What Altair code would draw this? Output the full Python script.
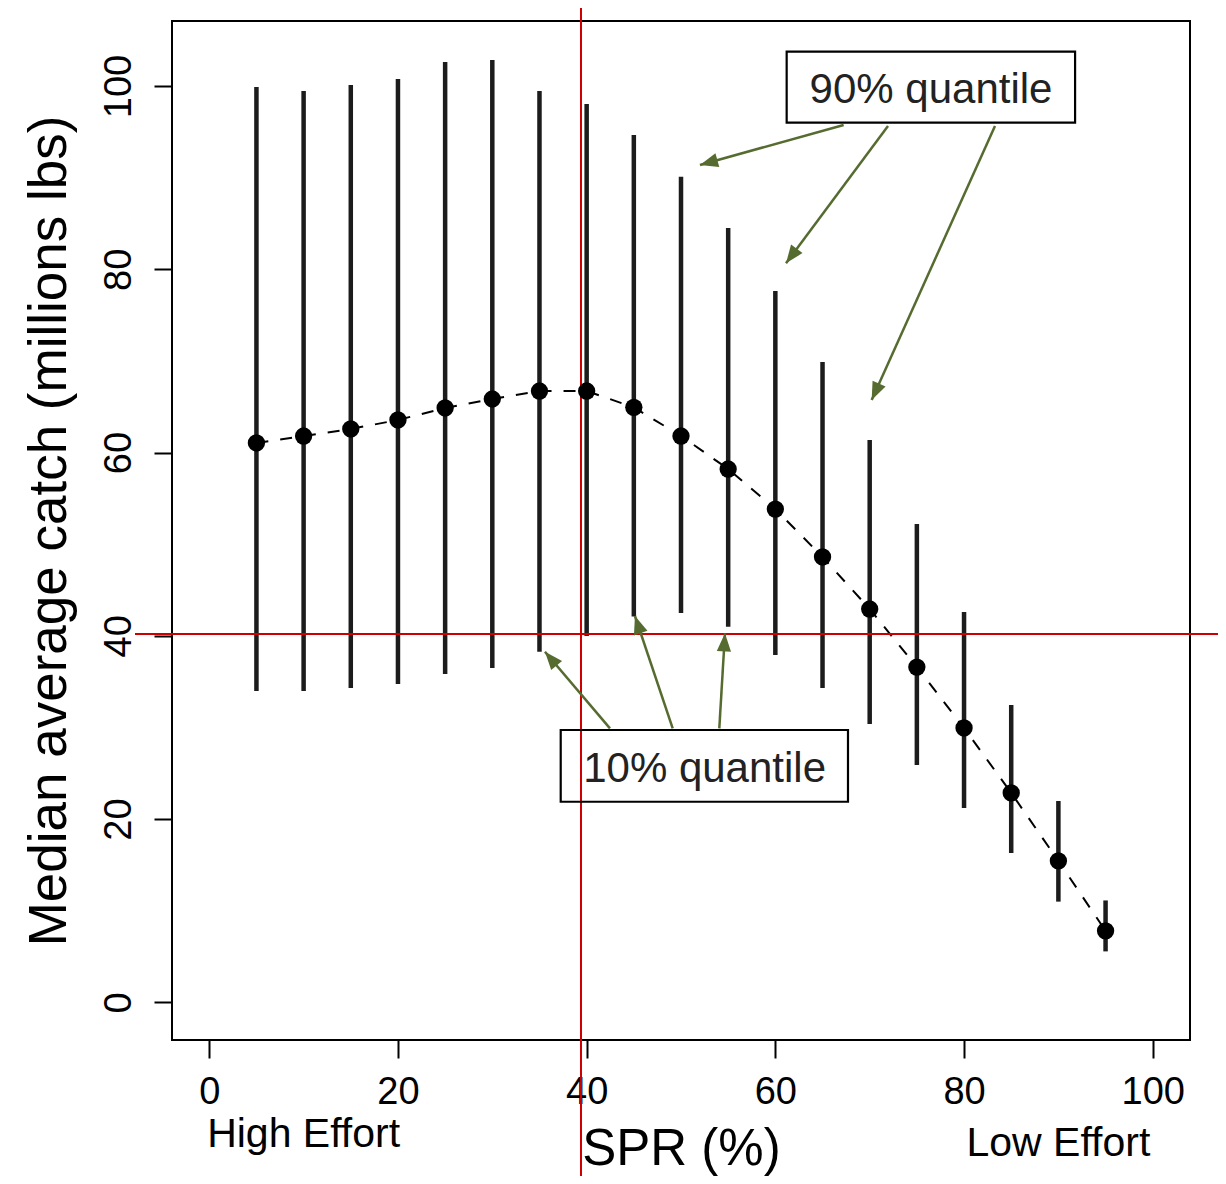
import altair as alt
import numpy as np
import pandas as pd

# ---------------- data ----------------
spr = [5, 10, 15, 20, 25, 30, 35, 40, 45, 50, 55, 60, 65, 70, 75, 80, 85, 90, 95]
median_catch = [61.04, 61.80, 62.57, 63.55, 64.86, 65.84, 66.71, 66.71, 64.93, 61.80,
                58.20, 53.83, 48.60, 42.92, 36.59, 29.94, 22.85, 15.43, 7.80]
q90 = [99.89, 99.45, 100.11, 100.76, 102.62, 102.84, 99.45, 98.03, 94.65, 90.10,
       84.50, 77.63, 69.88, 61.37, 52.20, 42.60, 32.44, 21.97, 11.12]
q10 = [33.97, 33.97, 34.30, 34.74, 35.83, 36.48, 38.25, 39.98, 42.10, 42.50,
       40.98, 37.90, 34.30, 30.37, 25.90, 21.21, 16.30, 10.99, 5.56]

x_ticks = [0, 20, 40, 60, 80, 100]
y_ticks = [0, 20, 40, 60, 80, 100]
x_domain = [-3.95, 103.95]
y_domain = [-4.11, 107.09]

ref_spr = [39.4]     # vertical red reference line
ref_catch = [40.2]   # horizontal red reference line

box_text = ["90% quantile", "10% quantile"]
box_x = [61.2, 37.25]
box_x2 = [91.77, 67.7]
box_y = [103.74, 29.72]
box_y2 = [95.99, 21.89]
box_text_x = [76.5, 52.5]
box_text_y = [98.1, 24.07]

arrow_x = [67.24, 71.94, 83.28, 42.47, 49.12, 54.06]
arrow_y = [95.74, 95.63, 95.63, 29.90, 29.90, 29.90]
arrow_x2 = [52.01, 61.13, 70.21, 35.58, 45.12, 54.66]
arrow_y2 = [91.38, 80.65, 65.73, 38.26, 42.16, 40.27]

effort_text = ["High Effort", "Low Effort"]
effort_x = [10, 90]

# ---------------- layout / style ----------------
W, H = 1018, 1019
FONT = "Liberation Sans"
ARROW = "#556B2F"
RED = "#cc0000"

df = pd.DataFrame({"spr": spr, "med": median_catch, "hi": q90, "lo": q10})
boxes = pd.DataFrame({"t": box_text, "x": box_x, "x2": box_x2, "y": box_y, "y2": box_y2,
                      "tx": box_text_x, "ty": box_text_y})
px_x = W / (x_domain[1] - x_domain[0])
px_y = H / (y_domain[1] - y_domain[0])
arrows = pd.DataFrame({"x": arrow_x, "y": arrow_y, "x2": arrow_x2, "y2": arrow_y2})
dxp = (arrows["x2"] - arrows["x"]) * px_x
dyp = -(arrows["y2"] - arrows["y"]) * px_y
arrows["ang"] = np.mod(np.degrees(np.arctan2(dxp, -dyp)), 360)
effort = pd.DataFrame({"t": effort_text, "x": effort_x, "ypix": [H + 107, H + 116]})

xs = alt.Scale(domain=x_domain, nice=False, zero=False)
ys = alt.Scale(domain=y_domain, nice=False, zero=False)

x_axis = alt.Axis(values=x_ticks, grid=False, domain=False, tickSize=18, tickWidth=2,
                  tickColor="black", labelFontSize=38, labelFont=FONT, labelColor="black",
                  labelBaseline="alphabetic", labelPadding=45, labelFlush=False,
                  labelOverlap=False, title="SPR (%)", titleFont=FONT, titleFontSize=51,
                  titleFontWeight="normal", titleColor="black", titleX=W / 2, titleY=124,
                  titleBaseline="alphabetic", titleAlign="center")
y_axis = alt.Axis(values=y_ticks, grid=False, domain=False, tickSize=18, tickWidth=2,
                  tickColor="black", labelFontSize=38, labelFont=FONT, labelColor="black",
                  labelAngle=270, labelAlign="center", labelBaseline="alphabetic",
                  labelPadding=24, labelOverlap=False,
                  title="Median average catch (millions lbs)", titleFont=FONT,
                  titleFontSize=53, titleFontWeight="normal", titleColor="black",
                  titleAngle=270, titleX=-107, titleY=H / 2, titleBaseline="alphabetic",
                  titleAlign="center")

base = alt.Chart(df)

bars = base.mark_rule(color="#1c1c1c", strokeWidth=4.5).encode(
    x=alt.X("spr:Q", scale=xs, axis=x_axis),
    y=alt.Y("lo:Q", scale=ys, axis=y_axis),
    y2="hi:Q",
)

line = base.mark_line(color="black", strokeWidth=2, strokeDash=[12, 12]).encode(
    x="spr:Q", y="med:Q"
)

vline = alt.Chart(pd.DataFrame({"v": ref_spr})).mark_rule(color=RED, strokeWidth=2).encode(
    x="v:Q", y=alt.value(-21), y2=alt.value(H + 136)
)
hline = alt.Chart(pd.DataFrame({"h": ref_catch})).mark_rule(color=RED, strokeWidth=2).encode(
    y="h:Q", x=alt.value(-37), x2=alt.value(W + 28)
)

points = base.mark_point(filled=True, color="black", size=300, opacity=1, shape="circle").encode(
    x="spr:Q", y="med:Q"
)

rects = alt.Chart(boxes).mark_rect(fill=None, stroke="black", strokeWidth=2.2).encode(
    x="x:Q", x2="x2:Q", y="y:Q", y2="y2:Q"
)
rect_text = alt.Chart(boxes).mark_text(font=FONT, fontSize=42, color="#222222",
                                       align="center", baseline="alphabetic").encode(
    x="tx:Q", y="ty:Q", text="t:N"
)

arrow_lines = alt.Chart(arrows).mark_rule(color=ARROW, strokeWidth=2.5).encode(
    x="x:Q", y="y:Q", x2="x2:Q", y2="y2:Q"
)
arrow_heads = alt.Chart(arrows).mark_point(
    shape="M0,0 L0.75,1.9 L-0.75,1.9 Z", filled=True, color=ARROW, size=361, opacity=1
).encode(x="x2:Q", y="y2:Q", angle=alt.Angle("ang:Q", scale=None))

effort_labels = alt.Chart(effort).mark_text(font=FONT, fontSize=41, color="black",
                                            align="center", baseline="alphabetic").encode(
    x="x:Q", y=alt.Y("ypix:Q", scale=None), text="t:N"
)

chart = alt.layer(
    bars, line, vline, hline, points, rects, rect_text, arrow_lines, arrow_heads, effort_labels
).properties(
    width=W, height=H,
    padding={"left": 164, "top": 13, "right": 28, "bottom": 136},
    autosize=alt.AutoSizeParams(type="none"),
    background="white",
).configure_view(stroke="black", strokeWidth=2)

chart.save("out.html", embed_options={"renderer": "svg", "actions": False})
